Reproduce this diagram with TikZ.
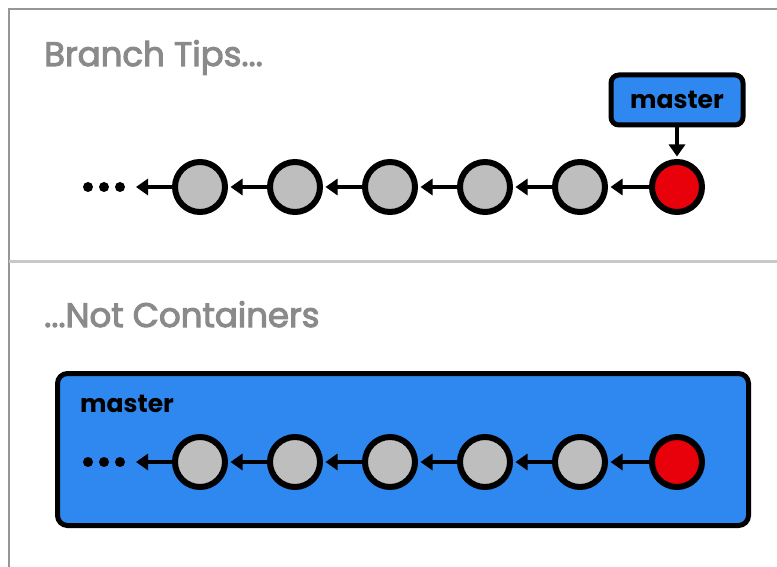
\documentclass[tikz,border=0pt]{standalone}
\usepackage{fontspec}
\setmainfont{Poppins}
\newfontfamily\titlefont{Poppins}[FakeBold=3]
\usetikzlibrary{arrows.meta, positioning}
\definecolor{gitblue}{RGB}{47,136,240}
\definecolor{gitred}{RGB}{232,0,11}
\definecolor{commitgray}{RGB}{190,190,190}
\definecolor{titlegray}{RGB}{138,138,138}
\definecolor{framegray}{RGB}{150,150,150}
\definecolor{sepgray}{RGB}{200,200,200}
\tikzstyle{commit}=[circle, draw=black, line width=6pt, fill=commitgray,
                    minimum size=50pt, inner sep=0pt]
\tikzstyle{dot}=[circle, fill=black, minimum size=10pt, inner sep=0pt]
\tikzstyle{parent}=[-{Triangle[length=12pt,width=16pt]}, line width=4pt,
                    shorten >=2.5pt]
\tikzstyle{branchbox}=[draw=black, line width=5pt, fill=gitblue,
                       rounded corners=8pt, inner sep=0pt]
\tikzstyle{title}=[anchor=base west, text=titlegray, inner sep=0pt,
                   font=\titlefont\fontsize{34}{40}\selectfont]
\tikzstyle{branchname}=[font=\fontsize{25}{30}\selectfont\bfseries]

\begin{document}
\begin{tikzpicture}[x=1pt, y=-1pt]
  \useasboundingbox (0,0) rectangle (777,567);
  % frame and separator
  \draw[framegray, line width=2pt] (8.5,567) |- (777,9.5);
  \draw[sepgray, line width=3pt] (8.5,261) -- (777,261);

  \node[title] (tipsTitle) at (44,66) {Branch Tips...};
  \node[title] (boxTitle) at (44,327) {...Not Containers};

  % the branch as a container
  \node[branchbox, anchor=north west, minimum width=691pt,
        minimum height=152pt, rounded corners=10pt] (container) at (55,371) {};
  \node[branchname, anchor=base west, inner sep=0pt] (containerName)
    at (80,412) {master};

  % two chains of commits
  \foreach \r/\y in {t/187, b/462} {
    \foreach \i [count=\n] in {0,...,4}
      \node[commit] (\r\n) at (200+95*\i, \y) {};
    \node[commit, fill=gitred] (\r6) at (677, \y) {};
    \foreach \x [count=\k] in {88,104,120}
      \node[dot] (\r d\k) at (\x, \y) {};
    \coordinate (\r tail) at (136, \y);
    \foreach \a/\b in {2/1, 3/2, 4/3, 5/4, 6/5}
      \draw[parent] (\r\a) -- (\r\b);
    \draw[parent, shorten >=0pt] (\r1) -- (\r tail);
  }

  % the branch as a pointer
  \node[branchbox, branchname, minimum width=132pt, minimum height=50pt]
    (tipName) at (677,100) {master};
  \draw[parent] (tipName) -- (t6);
\end{tikzpicture}
\end{document}
